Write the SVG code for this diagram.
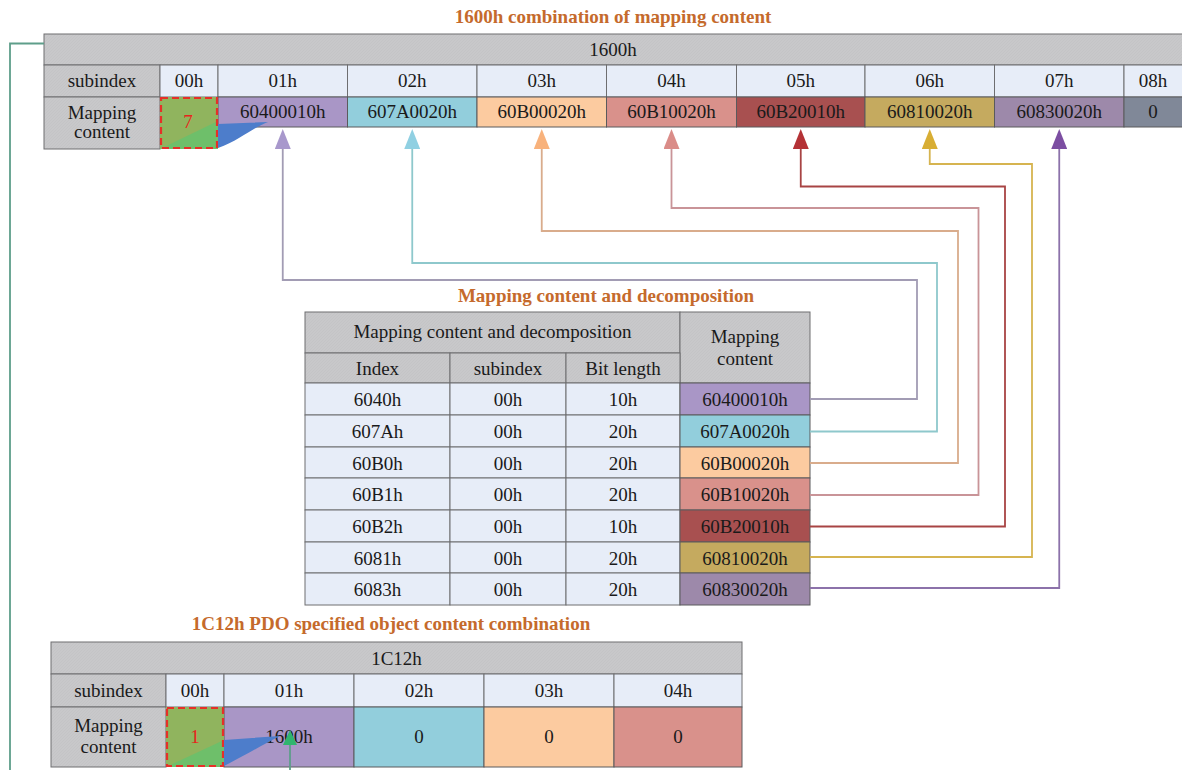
<svg xmlns="http://www.w3.org/2000/svg" width="1182" height="770" viewBox="0 0 1182 770">
<defs>
<pattern id="hatch" width="3" height="3" patternUnits="userSpaceOnUse"><rect width="3" height="3" fill="#C8C8CA"/><path d="M0,3 L3,0" stroke="#C0C0C3" stroke-width="0.5"/></pattern>
<marker id="a1" markerUnits="userSpaceOnUse" markerWidth="20" markerHeight="16" refX="0" refY="8" orient="auto"><path d="M0,0 L20,8 L0,16 Z" fill="#A898CC"/></marker>
<marker id="a2" markerUnits="userSpaceOnUse" markerWidth="20" markerHeight="16" refX="0" refY="8" orient="auto"><path d="M0,0 L20,8 L0,16 Z" fill="#90D0E2"/></marker>
<marker id="a3" markerUnits="userSpaceOnUse" markerWidth="20" markerHeight="16" refX="0" refY="8" orient="auto"><path d="M0,0 L20,8 L0,16 Z" fill="#F8B27C"/></marker>
<marker id="a4" markerUnits="userSpaceOnUse" markerWidth="20" markerHeight="16" refX="0" refY="8" orient="auto"><path d="M0,0 L20,8 L0,16 Z" fill="#DA8C88"/></marker>
<marker id="a5" markerUnits="userSpaceOnUse" markerWidth="20" markerHeight="16" refX="0" refY="8" orient="auto"><path d="M0,0 L20,8 L0,16 Z" fill="#B43236"/></marker>
<marker id="a6" markerUnits="userSpaceOnUse" markerWidth="20" markerHeight="16" refX="0" refY="8" orient="auto"><path d="M0,0 L20,8 L0,16 Z" fill="#D8AE34"/></marker>
<marker id="a7" markerUnits="userSpaceOnUse" markerWidth="20" markerHeight="16" refX="0" refY="8" orient="auto"><path d="M0,0 L20,8 L0,16 Z" fill="#7C4EA2"/></marker>
<marker id="ag" markerUnits="userSpaceOnUse" markerWidth="15" markerHeight="14" refX="0" refY="7" orient="auto"><path d="M0,0 L15,7 L0,14 Z" fill="#2FB56E"/></marker>
</defs>
<style>
text{font-family:"Liberation Serif","Times New Roman",serif;font-size:19px;fill:#1a1a1a;text-anchor:middle}
.h{font-weight:bold;fill:#C56A2C}
.g{fill:url(#hatch);stroke:#6E6E70;stroke-width:1}
.l{fill:#E7EDF8;stroke:#6E6E70;stroke-width:1}
.c{stroke:#5A5A5C;stroke-width:1}
.red{fill:#E8241C}
.k{fill:none;stroke-width:1.8}
.dash{fill:none;stroke:#E53028;stroke-width:2.2;stroke-dasharray:7,4}
</style>
<rect width="1182" height="770" fill="#FFFFFF"/>

<text class="h" x="613" y="23">1600h combination of mapping content</text>
<text class="h" x="606" y="302">Mapping content and decomposition</text>
<text class="h" x="391" y="630">1C12h PDO specified object content combination</text>

<g id="table-1600h">
<rect class="g" x="44" y="34" width="1140" height="31"/>
<text x="613" y="55.5">1600h</text>
<rect class="g" x="44" y="65" width="116" height="32"/>
<text x="102" y="87">subindex</text>
<rect class="g" x="44" y="97" width="116" height="52"/>
<text x="102" y="118.5">Mapping</text>
<text x="102" y="138">content</text>
<rect class="l" x="160" y="65" width="58" height="32"/><text x="189" y="87">00h</text>
<rect class="l" x="218" y="65" width="129.5" height="32"/><text x="282.75" y="87">01h</text>
<rect class="l" x="347.5" y="65" width="129.5" height="32"/><text x="412.25" y="87">02h</text>
<rect class="l" x="477" y="65" width="129.5" height="32"/><text x="541.75" y="87">03h</text>
<rect class="l" x="606.5" y="65" width="130" height="32"/><text x="671.5" y="87">04h</text>
<rect class="l" x="736.5" y="65" width="128.5" height="32"/><text x="800.75" y="87">05h</text>
<rect class="l" x="865" y="65" width="129.5" height="32"/><text x="929.75" y="87">06h</text>
<rect class="l" x="994.5" y="65" width="129.5" height="32"/><text x="1059.25" y="87">07h</text>
<rect class="l" x="1124" y="65" width="60" height="32"/><text x="1153" y="87">08h</text>
<rect class="c" x="218" y="97" width="129.5" height="30" fill="#A996C6"/><text x="282.75" y="118">60400010h</text>
<rect class="c" x="347.5" y="97" width="129.5" height="30" fill="#92CEDC"/><text x="412.25" y="118">607A0020h</text>
<rect class="c" x="477" y="97" width="129.5" height="30" fill="#FCCBA0"/><text x="541.75" y="118">60B00020h</text>
<rect class="c" x="606.5" y="97" width="130" height="30" fill="#D9918B"/><text x="671.5" y="118">60B10020h</text>
<rect class="c" x="736.5" y="97" width="128.5" height="30" fill="#A85050"/><text x="800.75" y="118">60B20010h</text>
<rect class="c" x="865" y="97" width="129.5" height="30" fill="#C5AA5F"/><text x="929.75" y="118">60810020h</text>
<rect class="c" x="994.5" y="97" width="129.5" height="30" fill="#9D89AA"/><text x="1059.25" y="118">60830020h</text>
<rect class="c" x="1124" y="97" width="60" height="30" fill="#808898"/><text x="1153" y="118">0</text>
<rect x="160" y="97" width="58" height="52" fill="#90B45E"/>
<path d="M160,149 L218,121 L218,149 Z" fill="#6EBF6A"/>
<text class="red" x="188" y="128">7</text>
<rect class="dash" x="161" y="98" width="56" height="50"/>
<path d="M218,124 L268,122 C252,128 240,140 218,148 Z" fill="#4D7DCB"/>
</g>

<g id="table-decomposition">
<rect class="g" x="305" y="312" width="375" height="41"/>
<text x="492.5" y="338">Mapping content and decomposition</text>
<rect class="g" x="680" y="312" width="130" height="71"/>
<text x="745" y="343">Mapping</text>
<text x="745" y="365">content</text>
<rect class="g" x="305" y="353" width="145" height="30"/><text x="377.5" y="375">Index</text>
<rect class="g" x="450" y="353" width="116" height="30"/><text x="508" y="375">subindex</text>
<rect class="g" x="566" y="353" width="114" height="30"/><text x="623" y="375">Bit length</text>

<rect class="l" x="305" y="383" width="145" height="32"/><rect class="l" x="450" y="383" width="116" height="32"/><rect class="l" x="566" y="383" width="114" height="32"/>
<rect class="c" x="680" y="383" width="130" height="32" fill="#A996C6"/>
<text x="377.5" y="406">6040h</text><text x="508" y="406">00h</text><text x="623" y="406">10h</text><text x="745" y="406">60400010h</text>

<rect class="l" x="305" y="415" width="145" height="32"/><rect class="l" x="450" y="415" width="116" height="32"/><rect class="l" x="566" y="415" width="114" height="32"/>
<rect class="c" x="680" y="415" width="130" height="32" fill="#92CEDC"/>
<text x="377.5" y="438">607Ah</text><text x="508" y="438">00h</text><text x="623" y="438">20h</text><text x="745" y="438">607A0020h</text>

<rect class="l" x="305" y="447" width="145" height="31"/><rect class="l" x="450" y="447" width="116" height="31"/><rect class="l" x="566" y="447" width="114" height="31"/>
<rect class="c" x="680" y="447" width="130" height="31" fill="#FCCBA0"/>
<text x="377.5" y="469.5">60B0h</text><text x="508" y="469.5">00h</text><text x="623" y="469.5">20h</text><text x="745" y="469.5">60B00020h</text>

<rect class="l" x="305" y="478" width="145" height="32"/><rect class="l" x="450" y="478" width="116" height="32"/><rect class="l" x="566" y="478" width="114" height="32"/>
<rect class="c" x="680" y="478" width="130" height="32" fill="#D9918B"/>
<text x="377.5" y="501">60B1h</text><text x="508" y="501">00h</text><text x="623" y="501">20h</text><text x="745" y="501">60B10020h</text>

<rect class="l" x="305" y="510" width="145" height="32"/><rect class="l" x="450" y="510" width="116" height="32"/><rect class="l" x="566" y="510" width="114" height="32"/>
<rect class="c" x="680" y="510" width="130" height="32" fill="#A85050"/>
<text x="377.5" y="533">60B2h</text><text x="508" y="533">00h</text><text x="623" y="533">10h</text><text x="745" y="533">60B20010h</text>

<rect class="l" x="305" y="542" width="145" height="31"/><rect class="l" x="450" y="542" width="116" height="31"/><rect class="l" x="566" y="542" width="114" height="31"/>
<rect class="c" x="680" y="542" width="130" height="31" fill="#C5AA5F"/>
<text x="377.5" y="564.5">6081h</text><text x="508" y="564.5">00h</text><text x="623" y="564.5">20h</text><text x="745" y="564.5">60810020h</text>

<rect class="l" x="305" y="573" width="145" height="32"/><rect class="l" x="450" y="573" width="116" height="32"/><rect class="l" x="566" y="573" width="114" height="32"/>
<rect class="c" x="680" y="573" width="130" height="32" fill="#9D89AA"/>
<text x="377.5" y="596">6083h</text><text x="508" y="596">00h</text><text x="623" y="596">20h</text><text x="745" y="596">60830020h</text>
</g>

<g id="table-1c12h">
<rect class="g" x="51" y="642" width="691" height="32"/>
<text x="396.5" y="665">1C12h</text>
<rect class="g" x="51" y="674" width="115" height="33"/>
<text x="108.5" y="697">subindex</text>
<rect class="g" x="51" y="707" width="115" height="60"/>
<text x="108.5" y="732">Mapping</text>
<text x="108.5" y="753">content</text>
<rect class="l" x="166" y="674" width="58" height="33"/><text x="195" y="697">00h</text>
<rect class="l" x="224" y="674" width="130" height="33"/><text x="289" y="697">01h</text>
<rect class="l" x="354" y="674" width="130" height="33"/><text x="419" y="697">02h</text>
<rect class="l" x="484" y="674" width="130" height="33"/><text x="549" y="697">03h</text>
<rect class="l" x="614" y="674" width="128" height="33"/><text x="678" y="697">04h</text>
<rect class="c" x="224" y="707" width="130" height="60" fill="#A996C6"/><text x="289" y="743">1600h</text>
<rect class="c" x="354" y="707" width="130" height="60" fill="#92CEDC"/><text x="419" y="743">0</text>
<rect class="c" x="484" y="707" width="130" height="60" fill="#FCCBA0"/><text x="549" y="743">0</text>
<rect class="c" x="614" y="707" width="128" height="60" fill="#D9918B"/><text x="678" y="743">0</text>
<rect x="166" y="707" width="58" height="60" fill="#90B45E"/>
<path d="M166,767 L224,740 L224,767 Z" fill="#6EBF6A"/>
<text class="red" x="195" y="743">1</text>
<rect class="dash" x="167" y="708" width="56" height="58"/>
<path d="M224,740 L280,736 C262,745 242,757 224,766 Z" fill="#4D7DCB"/>
</g>

<g id="connectors">
<path class="k" stroke="#A29CB4" d="M810,399 H917 V280 H282.75 V149" marker-end="url(#a1)"/>
<path class="k" stroke="#8EC8CC" d="M810,431.5 H937 V263 H412.25 V149" marker-end="url(#a2)"/>
<path class="k" stroke="#D9AC8C" d="M810,463 H958 V231 H541.75 V149" marker-end="url(#a3)"/>
<path class="k" stroke="#C99498" d="M810,495 H978.5 V208 H671.5 V149" marker-end="url(#a4)"/>
<path class="k" stroke="#A84444" d="M810,526.5 H1005 V186.5 H800.75 V149" marker-end="url(#a5)"/>
<path class="k" stroke="#D6B450" d="M810,557 H1032 V164 H929.75 V149" marker-end="url(#a6)"/>
<path class="k" stroke="#8C72AA" d="M810,588 H1059.25 V149" marker-end="url(#a7)"/>
<path class="k" stroke="#5E9E8A" d="M44,43.5 H10 V770"/>
<path class="k" stroke="#5E9E8A" d="M290,770 V745" marker-end="url(#ag)"/>
</g>
</svg>
